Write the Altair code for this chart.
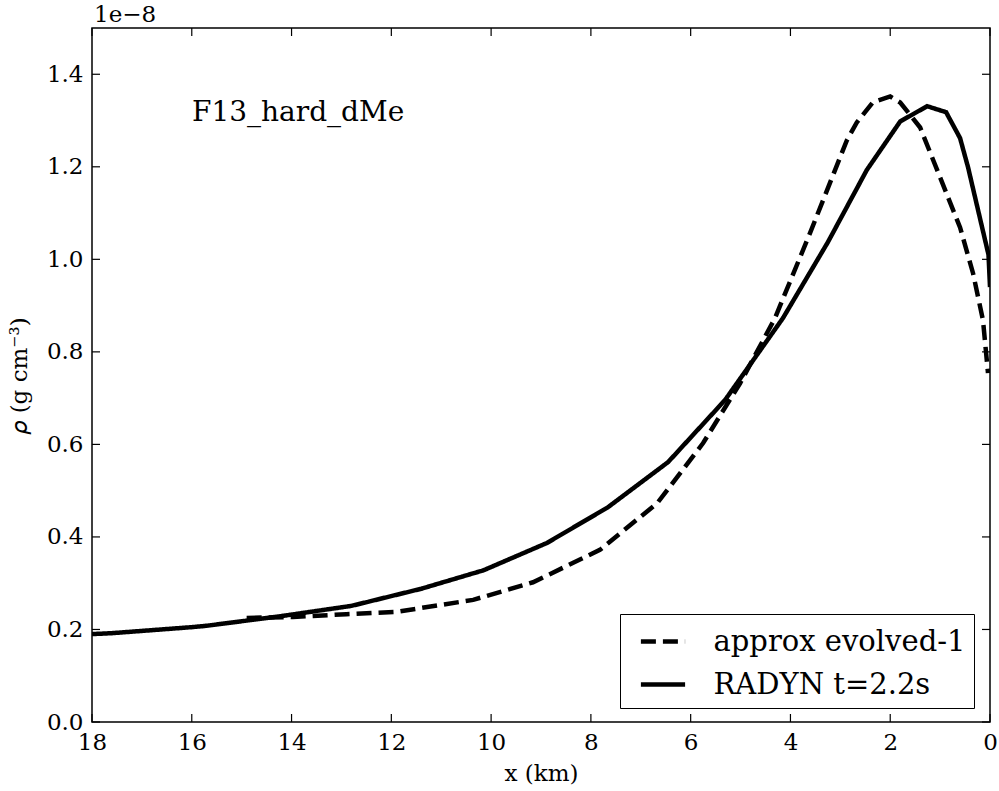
import altair as alt
import pandas as pd

# RADYN t=2.2s (solid)
x_radyn = [18.0, 17.6, 16.0, 15.7, 14.2, 12.8, 11.4, 10.15, 8.88, 7.66, 6.45, 5.31,
           4.15, 3.25, 2.47, 1.80, 1.26, 0.88, 0.60, 0.44, 0.03, 0.0]
rho_radyn = [0.190, 0.192, 0.205, 0.208, 0.229, 0.251, 0.288, 0.328, 0.387, 0.464, 0.562, 0.696,
             0.873, 1.037, 1.193, 1.298, 1.331, 1.318, 1.262, 1.199, 1.010, 0.940]

# approx evolved-1 (dashed)
x_approx = [14.9, 13.97, 12.9, 11.9, 10.36, 9.16, 7.82, 6.67, 5.75, 5.01, 4.31, 3.61,
            2.87, 2.67, 2.35, 2.0, 1.80, 1.40, 1.0, 0.60, 0.34, 0.14, 0.04]
rho_approx = [0.225, 0.227, 0.233, 0.238, 0.264, 0.302, 0.372, 0.473, 0.603, 0.732, 0.873, 1.056,
              1.257, 1.296, 1.339, 1.352, 1.339, 1.285, 1.177, 1.069, 0.970, 0.868, 0.754]

series_names = ["approx evolved-1", "RADYN t=2.2s"]
x_ticks = [18, 16, 14, 12, 10, 8, 6, 4, 2, 0]
y_ticks = [0.0, 0.2, 0.4, 0.6, 0.8, 1.0, 1.2, 1.4]

W, H = 898, 694
FONT = "DejaVu Serif"

lines_df = pd.concat([
    pd.DataFrame({"x": x_approx, "rho": rho_approx, "series": series_names[0], "ord": range(len(x_approx))}),
    pd.DataFrame({"x": x_radyn, "rho": rho_radyn, "series": series_names[1], "ord": range(len(x_radyn))}),
])

xscale = alt.Scale(domain=[0, 18], reverse=True, nice=False, zero=False)
yscale = alt.Scale(domain=[0, 1.5], nice=False)

lines = alt.Chart(lines_df).mark_line(strokeWidth=4.5, color="black", clip=True).encode(
    x=alt.X("x:Q", scale=xscale, axis=alt.Axis(
        title="x (km)", values=x_ticks, format="d", ticks=False, domain=False, grid=False,
        labelFlush=False, labelPadding=9, titlePadding=8, labelFontSize=23, titleFontSize=23,
        labelFont=FONT, titleFont=FONT, titleFontWeight="normal", labelColor="black", titleColor="black")),
    y=alt.Y("rho:Q", scale=yscale, axis=alt.Axis(
        title="𝜌 (g cm⁻³)", values=y_ticks, format=".1f", ticks=False, domain=False, grid=False,
        labelFlush=False, labelPadding=9, titlePadding=15, labelFontSize=23, titleFontSize=23,
        labelFont=FONT, titleFont=FONT, titleFontWeight="normal", labelColor="black", titleColor="black")),
    strokeDash=alt.StrokeDash("series:N", scale=alt.Scale(domain=series_names, range=[[15, 7], [1, 0]]),
                              legend=alt.Legend(
                                  title=None, orient="none", legendX=528, legendY=586,
                                  strokeColor="black", fillColor="white", padding=8, cornerRadius=0,
                                  symbolType="M-1.3,0H1.3", symbolSize=1156, symbolStrokeWidth=4.5,
                                  symbolStrokeColor="black", symbolOffset=15.5, labelOffset=31,
                                  rowPadding=8, labelFont=FONT, labelFontSize=29,
                                  labelExpr="datum.label + '\u2004'",
                                  labelColor="black", labelLimit=400)),
    order=alt.Order("ord:Q"),
    detail="series:N",
)

xt_df = pd.DataFrame({"x": x_ticks})
yt_df = pd.DataFrame({"rho": y_ticks})
tick_len = 8
bt = alt.Chart(xt_df).mark_rule(color="black", strokeWidth=1.2).encode(
    x=alt.X("x:Q", scale=xscale), y=alt.value(H), y2=alt.value(H - tick_len))
tt = alt.Chart(xt_df).mark_rule(color="black", strokeWidth=1.2).encode(
    x=alt.X("x:Q", scale=xscale), y=alt.value(0), y2=alt.value(tick_len))
lt = alt.Chart(yt_df).mark_rule(color="black", strokeWidth=1.2).encode(
    y=alt.Y("rho:Q", scale=yscale), x=alt.value(0), x2=alt.value(tick_len))
rt = alt.Chart(yt_df).mark_rule(color="black", strokeWidth=1.2).encode(
    y=alt.Y("rho:Q", scale=yscale), x=alt.value(W), x2=alt.value(W - tick_len))

label_df = pd.DataFrame({"t": ["F13_hard_dMe"]})
label = alt.Chart(label_df).mark_text(
    align="left", baseline="alphabetic", fontSize=28, font=FONT, color="black").encode(
    text="t:N", x=alt.value(100), y=alt.value(93))

off_df = pd.DataFrame({"t": ["1e−8"]})
offset = alt.Chart(off_df).mark_text(
    align="left", baseline="alphabetic", fontSize=23, font=FONT, color="black").encode(
    text="t:N", x=alt.value(2), y=alt.value(-6))

chart = alt.layer(lines, bt, tt, lt, rt, label, offset).properties(
    width=W, height=H,
    background="white",
    autosize=alt.AutoSizeParams(type="none"),
    padding={"left": 92, "top": 28, "right": 9, "bottom": 69},
).configure_view(
    stroke="black", strokeWidth=1.5
)

chart.save("out.html", embed_options={"renderer": "svg", "actions": False})
